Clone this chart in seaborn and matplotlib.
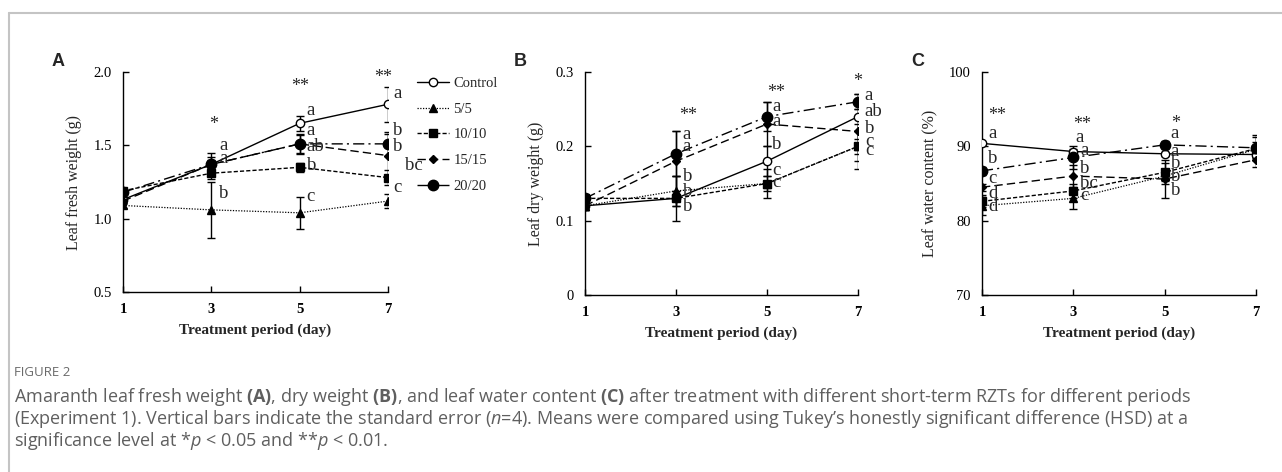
import numpy as np
import pandas as pd
import matplotlib
matplotlib.use("Agg")
import matplotlib.pyplot as plt
from matplotlib.lines import Line2D
import seaborn as sns

# ---- data ----
days = [1, 3, 5, 7]
treatments = ['Control', '5/5', '10/10', '15/15', '20/20']

# (A) leaf fresh weight (g)
fw_control = [1.13, 1.37, 1.65, 1.78]
fw_5 = [1.09, 1.06, 1.04, 1.12]
fw_10 = [1.19, 1.31, 1.35, 1.28]
fw_15 = [1.12, 1.37, 1.51, 1.43]
fw_20 = [1.18, 1.37, 1.51, 1.51]
fw_err_control = [0.02, 0.03, 0.05, 0.12]
fw_err_5 = [0.02, 0.19, 0.11, 0.05]
fw_err_10 = [0.02, 0.04, 0.03, 0.05]
fw_err_15 = [0.02, 0.05, 0.07, 0.15]
fw_err_20 = [0.02, 0.08, 0.06, 0.08]

# (B) leaf dry weight (g)
dw_control = [0.12, 0.13, 0.18, 0.24]
dw_5 = [0.12, 0.14, 0.15, 0.20]
dw_10 = [0.13, 0.13, 0.15, 0.20]
dw_15 = [0.12, 0.18, 0.23, 0.22]
dw_20 = [0.13, 0.19, 0.24, 0.26]
dw_err_control = [0.005, 0.01, 0.02, 0.03]
dw_err_5 = [0.005, 0.02, 0.01, 0.02]
dw_err_10 = [0.005, 0.03, 0.02, 0.03]
dw_err_15 = [0.005, 0.04, 0.03, 0.03]
dw_err_20 = [0.005, 0.03, 0.02, 0.01]

# (C) leaf water content (%)
wc_control = [90.4, 89.3, 89.0, 88.9]
wc_5 = [82.0, 83.0, 86.0, 89.6]
wc_10 = [82.6, 84.0, 86.5, 89.7]
wc_15 = [84.5, 86.0, 85.6, 88.2]
wc_20 = [86.7, 88.5, 90.2, 89.8]
wc_err_control = [0.2, 0.3, 0.3, 0.5]
wc_err_5 = [1.2, 1.4, 1.0, 1.0]
wc_err_10 = [0.8, 1.0, 1.2, 1.5]
wc_err_15 = [0.5, 1.5, 2.5, 1.0]
wc_err_20 = [0.5, 1.5, 0.5, 1.7]

# significance stars and Tukey letters: (day, y, text)
fw_stars = [(3.05, 1.64, '*'), (5.0, 1.90, '**'), (6.9, 1.96, '**')]
fw_letters = [(3.18, 1.50, 'a'), (3.18, 1.41, 'a'), (3.18, 1.17, 'b'),
              (5.16, 1.74, 'a'), (5.16, 1.60, 'a'), (5.16, 1.49, 'ab'),
              (5.16, 1.36, 'b'), (5.16, 1.15, 'c'),
              (7.12, 1.85, 'a'), (7.12, 1.60, 'b'), (7.12, 1.49, 'b'),
              (7.38, 1.36, 'bc'), (7.12, 1.21, 'c')]
dw_stars = [(3.26, 0.241, '**'), (5.2, 0.272, '**'), (7.0, 0.287, '*')]
dw_letters = [(3.15, 0.216, 'a'), (3.15, 0.200, 'a'), (3.15, 0.160, 'b'),
              (3.15, 0.139, 'b'), (3.15, 0.119, 'b'),
              (5.11, 0.254, 'a'), (5.11, 0.233, 'a'), (5.11, 0.202, 'b'),
              (5.11, 0.168, 'c'), (5.11, 0.151, 'c'),
              (7.15, 0.268, 'a'), (7.15, 0.247, 'ab'), (7.15, 0.224, 'b'),
              (7.15, 0.207, 'c'), (7.15, 0.195, 'c')]
wc_stars = [(1.33, 94.2, '**'), (3.2, 92.9, '**'), (5.24, 93.1, '*')]
wc_letters = [(1.13, 91.7, 'a'), (1.13, 88.4, 'b'), (1.13, 85.7, 'c'),
              (1.13, 83.7, 'd'), (1.13, 81.9, 'd'),
              (3.04, 91.2, 'a'), (3.15, 89.5, 'a'), (3.15, 87.0, 'b'),
              (3.15, 85.0, 'bc'), (3.15, 83.4, 'c'),
              (5.13, 91.7, 'a'), (5.13, 89.3, 'a'), (5.13, 87.7, 'b'),
              (5.13, 85.9, 'b'), (5.13, 84.1, 'b')]

panels = [
    ('A', 'Leaf fresh weight (g)', [0.5, 2.0], [0.5, 1.0, 1.5, 2.0], ['0.5', '1.0', '1.5', '2.0'],
     [fw_control, fw_5, fw_10, fw_15, fw_20],
     [fw_err_control, fw_err_5, fw_err_10, fw_err_15, fw_err_20],
     fw_stars, fw_letters),
    ('B', 'Leaf dry weight (g)', [0, 0.3], [0, 0.1, 0.2, 0.3], ['0', '0.1', '0.2', '0.3'],
     [dw_control, dw_5, dw_10, dw_15, dw_20],
     [dw_err_control, dw_err_5, dw_err_10, dw_err_15, dw_err_20],
     dw_stars, dw_letters),
    ('C', 'Leaf water content (%)', [70, 100], [70, 80, 90, 100], ['70', '80', '90', '100'],
     [wc_control, wc_5, wc_10, wc_15, wc_20],
     [wc_err_control, wc_err_5, wc_err_10, wc_err_15, wc_err_20],
     wc_stars, wc_letters),
]

# line / marker style per treatment
styles = [
    dict(linestyle='-', marker='o', markersize=6, markerfacecolor='white', linewidth=1.0),
    dict(linestyle=(0, (1, 1.2)), marker='^', markersize=5.5, markerfacecolor='black', linewidth=0.9),
    dict(linestyle=(0, (3, 1.5)), marker='s', markersize=5.5, markerfacecolor='black', linewidth=1.0),
    dict(linestyle=(0, (6, 3)), marker='D', markersize=3.8, markerfacecolor='black', linewidth=1.0),
    dict(linestyle=(0, (8, 3, 1.5, 3)), marker='o', markersize=7.5, markerfacecolor='black', linewidth=1.0),
]

sns.set_style('ticks')
plt.rcParams['font.family'] = ['Liberation Serif', 'DejaVu Serif']
plt.rcParams['mathtext.fontset'] = 'custom'
plt.rcParams['mathtext.rm'] = 'Open Sans'
plt.rcParams['mathtext.it'] = 'Open Sans:italic'
plt.rcParams['mathtext.bf'] = 'Open Sans:bold'

W, H = 1282, 472
fig = plt.figure(figsize=(W / 100, H / 100), dpi=100)

# axes boxes in pixels: left, right, top, bottom
boxes = [(123, 388, 72, 292), (585, 858, 72, 295), (982, 1256, 72, 295)]

axes = []
for (tag, ylab, ylim, yticks, ytl, series, errs, stars, letters), (l, r, t, b) in zip(panels, boxes):
    ax = fig.add_axes([l / W, 1 - b / H, (r - l) / W, (b - t) / H])
    axes.append(ax)
    for name, vals, err, st in zip(treatments, series, errs, styles):
        ax.errorbar(days, vals, yerr=err, fmt='none', ecolor='black',
                    elinewidth=1, capsize=3, capthick=1, zorder=2)
        sns.lineplot(x=days, y=vals, ax=ax, color='black', errorbar=None,
                     markeredgecolor='black', markeredgewidth=1,
                     label=name, legend=False, zorder=3, **st)
    for x, y, s in stars:
        ax.text(x, y, s, ha='center', va='center', fontsize=13)
    for x, y, s in letters:
        ax.text(x, y, s, ha='left', va='center', fontsize=13.5)
    ax.set_xlim(1, 7)
    ax.set_ylim(*ylim)
    ax.set_xticks(days)
    ax.set_yticks(yticks)
    ax.set_yticklabels(ytl)
    for lab in ax.get_xticklabels():
        lab.set_fontweight('bold')
    ax.tick_params(direction='in', length=4, width=1, labelsize=10.5, pad=8, colors='black')
    sns.despine(ax=ax)
    for sp in ['left', 'bottom']:
        ax.spines[sp].set_linewidth(1)
        ax.spines[sp].set_color('black')
    ax.set_xlabel('Treatment period (day)', fontsize=11, fontweight='bold', labelpad=5)
    ax.set_ylabel(ylab, fontsize=11.5, labelpad=8)
    fig.text((l - 71) / W, 1 - 62 / H, tag, fontsize=13, fontweight='bold',
             family='Liberation Sans', ha='left', va='center')

handles, labels = axes[0].get_legend_handles_labels()
fig.legend(handles, labels, loc='upper left', bbox_to_anchor=(417 / W, 1 - 77 / H),
           frameon=False, fontsize=10.5, handlelength=2.2, handletextpad=0.3,
           labelspacing=0.85, borderpad=0, borderaxespad=0)

# frame lines round the figure panel
fig.add_artist(Line2D([9 / W, 1], [1 - 13 / H, 1 - 13 / H], color='#c4c4c4', lw=1.5))
fig.add_artist(Line2D([9 / W, 9 / W], [1 - 13 / H, 0], color='#c4c4c4', lw=1.5))

# caption
cap = dict(family='Open Sans', color='#5f5f5f', fontsize=13, ha='left', va='baseline')
fig.text(14 / W, 1 - 376 / H, 'FIGURE 2', family='Open Sans', color='#6a6a6a',
         fontsize=9.5, ha='left', va='baseline')
fig.text(14 / W, 1 - 402 / H,
         r'Amaranth leaf fresh weight $\mathbf{(A)}$, dry weight $\mathbf{(B)}$, and leaf water content '
         r'$\mathbf{(C)}$ after treatment with different short-term RZTs for different periods', **cap)
fig.text(14 / W, 1 - 424 / H,
         r'(Experiment 1). Vertical bars indicate the standard error ($\mathit{n}$=4). Means were compared '
         'using Tukey\u2019s honestly significant difference (HSD) at a', **cap)
fig.text(14 / W, 1 - 446 / H,
         r'significance level at *$\mathit{p}$ < 0.05 and **$\mathit{p}$ < 0.01.', **cap)

fig.savefig('out.png', dpi=100)
